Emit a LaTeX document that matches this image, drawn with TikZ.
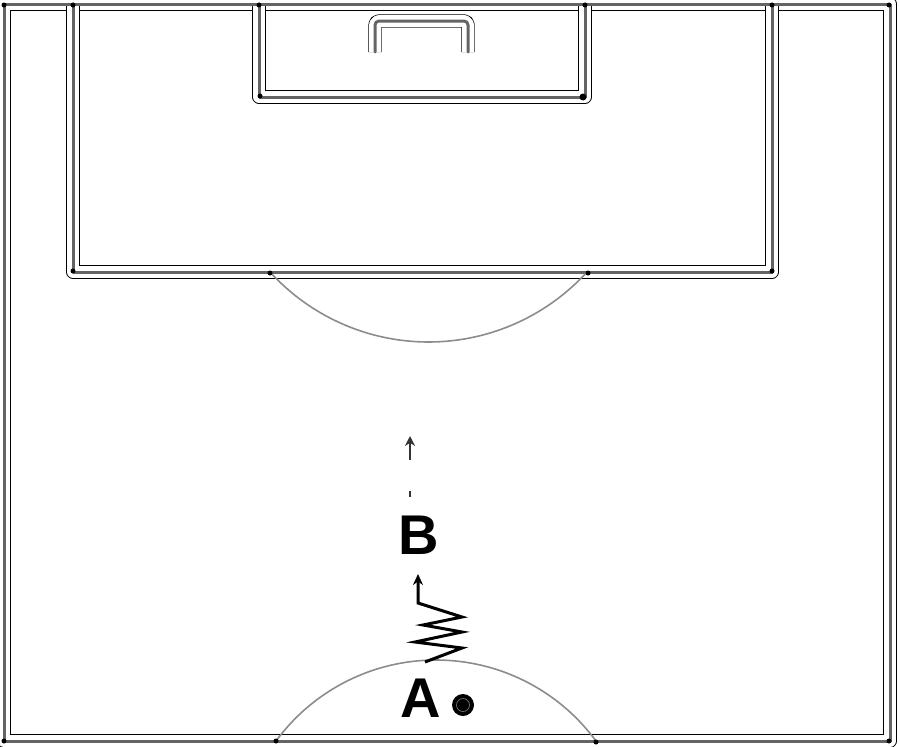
\documentclass[tikz,border=0pt]{standalone}
\usepackage{fontspec}
\setmainfont{Liberation Sans}
\usetikzlibrary{arrows.meta}
\definecolor{lineg}{RGB}{100,100,100}
\definecolor{arcg}{RGB}{140,140,140}
\tikzset{
  dbl/.style={draw=black, line width=0.7pt, double=white, double distance=12pt, line join=round},
  gl/.style={draw=lineg, line width=3pt, line join=round, line cap=round},
  arcline/.style={draw=arcg, line width=1.6pt},
  jdot/.style={fill=black, circle, inner sep=0pt, minimum size=5pt},
  lbl/.style={font=\fontsize{56}{60}\selectfont\bfseries, inner sep=0pt},
  zig/.style={draw=black, line width=3pt, line join=miter, -{Stealth[length=11pt,width=10pt]}},
  run/.style={draw=black!80, line width=2pt, dash pattern=on 6pt off 31pt on 40pt, -{Stealth[length=10pt,width=10pt]}}
}
\begin{document}
\begin{tikzpicture}[x=1pt,y=-1pt]
\useasboundingbox (0,0) rectangle (900,747);
% double outline pass
\draw[dbl] (4,4) rectangle (890,741);
\draw[dbl] (73,4) -- (73,272) -- (772,272) -- (772,4);
\draw[dbl] (259,4) -- (259,97) -- (585,97) -- (585,4);
\draw[dbl, rounded corners=4pt] (375,52) -- (375,21) -- (468,21) -- (468,52);
% gray lines
\draw[gl] (4,4) rectangle (890,741);
\draw[gl] (73,4) -- (73,272) -- (772,272) -- (772,4);
\draw[gl] (259,4) -- (259,97) -- (585,97) -- (585,4);
\draw[gl, rounded corners=4pt] (375,52) -- (375,21) -- (468,21) -- (468,52);
% arcs
\draw[arcline] plot[domain=137.7:42.3, samples=80] ({428.5+214.4*cos(\x)}, {127.6+214.4*sin(\x)});
\draw[arcline] plot[domain=216.3:323.7, samples=80] ({436+198.5*cos(\x)}, {858.5+198.5*sin(\x)});
% junction dots
\foreach \p in {(73,5),(772,5),(259,5),(585,5),(73,271),(772,271),(260,96),(270,273),(588,273),(276,741),(596,742),(4,741),(889,741),(889,5),(4,5)}
  \node[jdot] at \p {};
\node[jdot, minimum size=7pt] at (583,97) {};
% players and ball
\node[lbl] (A) at (421,698) {A};
\node[lbl] (B) at (419,535) {B};
\node[circle, fill=black, minimum size=22pt, inner sep=0pt] (ball) at (463,705) {};
\draw[black!55, line width=0.7pt] (ball.center) circle (6.5pt);
% dribble zigzag
\coordinate (zs) at (425,662);
\coordinate (ze) at (418,574);
\draw[zig] (zs) -- (462,648) -- (415,642) -- (462,632) -- (423,625) -- (462,617) -- (418,603) -- (ze);
% run without ball
\coordinate (rs) at (410,497);
\coordinate (rt) at (410,436);
\draw[run] (rs) -- (rt);
\end{tikzpicture}
\end{document}
